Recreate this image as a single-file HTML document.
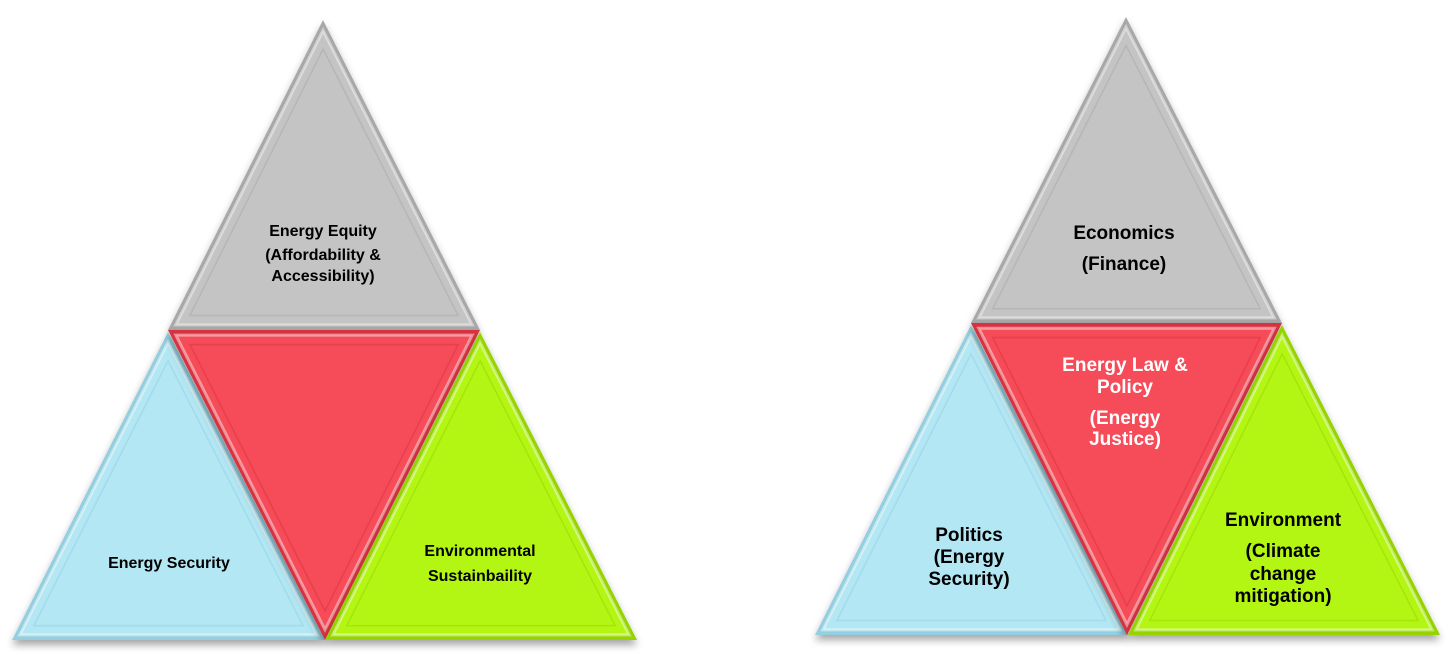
<!DOCTYPE html>
<html><head><meta charset="utf-8"><style>
html,body{margin:0;padding:0;background:#fff;}
svg{display:block;}
text{font-family:"Liberation Sans",Arial,sans-serif;font-weight:bold;text-anchor:middle;}
</style></head><body>
<svg id="s" width="1449" height="655" viewBox="0 0 1449 655">
<defs>
<filter id="sh" x="-10%" y="-10%" width="120%" height="130%"><feDropShadow dx="0" dy="5" stdDeviation="4" flood-color="#000" flood-opacity="0.35"/></filter>
</defs>
<g id="g"></g>
</svg>
<script>
const NS="http://www.w3.org/2000/svg";
const g=document.getElementById('g');
const tris=[
 {name:'equity-triangle',p:[[323,20],[168,330],[480,330]],c:'#c4c4c4',e:'#a8a8a8'},
 {name:'security-triangle',p:[[168,332],[12,640],[325,640]],c:'#b3e7f4',e:'#93cfe0'},
 {name:'policy-triangle',p:[[168,330],[480,330],[325,640]],c:'#f64b58',e:'#d8333f'},
 {name:'sustainability-triangle',p:[[480,332],[325,640],[637,640]],c:'#b4f613',e:'#96d400'},
 {name:'economics-triangle',p:[[1126,17],[971,323],[1282,323]],c:'#c4c4c4',e:'#a8a8a8'},
 {name:'politics-triangle',p:[[971,325],[815,635],[1128,635]],c:'#b3e7f4',e:'#93cfe0'},
 {name:'law-policy-triangle',p:[[971,323],[1282,323],[1127,635]],c:'#f64b58',e:'#d8333f'},
 {name:'environment-triangle',p:[[1282,325],[1128,635],[1440,635]],c:'#b4f613',e:'#96d400'}
];
function pts(a){return a.map(p=>p.join(',')).join(' ');}
function shrink(a,k){const cx=(a[0][0]+a[1][0]+a[2][0])/3,cy=(a[0][1]+a[1][1]+a[2][1])/3;return a.map(p=>[cx+(p[0]-cx)*k,cy+(p[1]-cy)*k]);}
tris.forEach(t=>{
 const grp=document.createElementNS(NS,'g');
 
 
 const o=document.createElementNS(NS,'polygon');
 o.setAttribute('points',pts(t.p));o.setAttribute('fill',t.e);o.setAttribute('filter','url(#sh)');
 grp.appendChild(o);
 const m=document.createElementNS(NS,'polygon');
 m.setAttribute('points',pts(shrink(t.p,0.95)));m.setAttribute('fill',t.c);m.setAttribute('stroke','#ffffff');m.setAttribute('stroke-opacity','0.45');m.setAttribute('stroke-width','3');
 grp.appendChild(m);
 const i=document.createElementNS(NS,'polygon');
 i.setAttribute('points',pts(shrink(t.p,0.86)));i.setAttribute('fill',t.c);i.setAttribute('stroke',t.e);i.setAttribute('stroke-opacity','0.5');i.setAttribute('stroke-width','1.5');
 grp.appendChild(i);
 g.appendChild(grp);
});
const labels=[
 {n:'energy-equity-label',x:323,y:236,s:16,c:'#000',t:'Energy Equity'},
 {n:'affordability-label',x:323,y:260,s:16,c:'#000',t:'(Affordability &'},
 {n:'accessibility-label',x:323,y:281,s:16,c:'#000',t:'Accessibility)'},
 {n:'energy-security-label',x:169,y:568,s:16,c:'#000',t:'Energy Security'},
 {n:'environmental-label',x:480,y:556,s:16,c:'#000',t:'Environmental'},
 {n:'sustainability-label',x:480,y:581,s:16,c:'#000',t:'Sustainbaility'},
 {n:'economics-label',x:1124,y:239,s:19,c:'#000',t:'Economics'},
 {n:'finance-label',x:1124,y:270,s:19,c:'#000',t:'(Finance)'},
 {n:'law-policy-label-1',x:1125,y:371,s:19,c:'#fff',t:'Energy Law &'},
 {n:'law-policy-label-2',x:1125,y:393,s:19,c:'#fff',t:'Policy'},
 {n:'justice-label-1',x:1125,y:424,s:19,c:'#fff',t:'(Energy'},
 {n:'justice-label-2',x:1125,y:445,s:19,c:'#fff',t:'Justice)'},
 {n:'politics-label-1',x:969,y:541,s:19,c:'#000',t:'Politics'},
 {n:'politics-label-2',x:969,y:563,s:19,c:'#000',t:'(Energy'},
 {n:'politics-label-3',x:969,y:585,s:19,c:'#000',t:'Security)'},
 {n:'environment-label-1',x:1283,y:526,s:19,c:'#000',t:'Environment'},
 {n:'environment-label-2',x:1283,y:557,s:19,c:'#000',t:'(Climate'},
 {n:'environment-label-3',x:1283,y:580,s:19,c:'#000',t:'change'},
 {n:'environment-label-4',x:1283,y:602,s:19,c:'#000',t:'mitigation)'}
];
labels.forEach(l=>{
 const e=document.createElementNS(NS,'text');
 
 
 e.setAttribute('x',l.x);e.setAttribute('y',l.y);e.setAttribute('font-size',l.s);e.setAttribute('fill',l.c);
 e.textContent=l.t;
 document.getElementById('s').appendChild(e);
});
</script>
</body></html>
